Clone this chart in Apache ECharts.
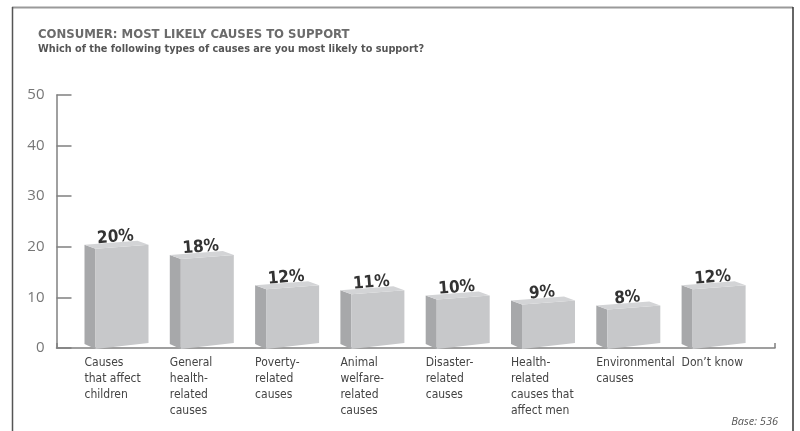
<!DOCTYPE html>
<html>
<head>
<meta charset="utf-8">
<script src="https://cdn.jsdelivr.net/npm/echarts@6/dist/echarts.min.js"></script>
<style>
  html, body { margin: 0; padding: 0; background: #fff; }
  #chart { width: 800px; height: 431px; }
</style>
</head>
<body>
<div id="chart"></div>
<script>
  // categories and values
  var categories = [
    'Causes\nthat affect\nchildren',
    'General\nhealth-\nrelated\ncauses',
    'Poverty-\nrelated\ncauses',
    'Animal\nwelfare-\nrelated\ncauses',
    'Disaster-\nrelated\ncauses',
    'Health-\nrelated\ncauses that\naffect men',
    'Environmental\ncauses',
    'Don\u2019t know'
  ];
  var values = [20, 18, 12, 11, 10, 9, 8, 12];
  var yMin = 0, yMax = 50, yStep = 10;

  var narrow = "'DejaVu Sans Condensed', 'DejaVu Sans', sans-serif";

  var myChart = echarts.init(document.getElementById('chart'));

  // box drawn from the category position (back-left edge) and the value
  function renderBox(params, api) {
    var top = api.coord([api.value(0), api.value(1)]);
    var base = api.coord([api.value(0), 0]);
    var x0 = top[0], yv = top[1], yb = base[1];
    var d = 11, w = 64;
    return {
      type: 'group',
      children: [
        {
          type: 'polygon',
          shape: { points: [[x0, yv - 2], [x0 + d, yv + 2], [x0 + d, yb + 1], [x0, yb - 4]] },
          style: { fill: '#a7a8aa' }
        },
        {
          type: 'polygon',
          shape: { points: [[x0 + d, yv + 2], [x0 + w, yv - 2], [x0 + w, yb - 5], [x0 + d, yb + 1]] },
          style: { fill: '#c7c8ca' }
        },
        {
          type: 'polygon',
          shape: { points: [[x0, yv - 2], [x0 + w - d, yv - 6], [x0 + w, yv - 2], [x0 + d, yv + 2]] },
          style: { fill: '#d3d4d6' }
        },
        {
          type: 'text',
          x: x0 + 31,
          y: yv - 9.5,
          rotation: 0.08,
          style: {
            text: api.value(1) + '%',
            fill: '#333',
            fontSize: 17,
            fontWeight: 'bold',
            fontFamily: narrow,
            align: 'center',
            verticalAlign: 'middle'
          }
        }
      ]
    };
  }

  var option = {
    animation: false,
    title: {
      text: 'CONSUMER: MOST LIKELY CAUSES TO SUPPORT',
      subtext: 'Which of the following types of causes are you most likely to support?',
      left: 33,
      top: 25,
      itemGap: 0,
      textStyle: { color: '#6b6b6b', fontSize: 13, fontWeight: 'bold', fontFamily: narrow, lineHeight: 10 },
      subtextStyle: { color: '#555', fontSize: 10.8, fontWeight: 'bold', fontFamily: narrow, lineHeight: 13 }
    },
    graphic: [
      { type: 'line', shape: { x1: 12, y1: 7.5, x2: 793, y2: 7.5 }, style: { stroke: '#9a9a9a', lineWidth: 2 } },
      { type: 'line', shape: { x1: 12.5, y1: 7, x2: 12.5, y2: 431 }, style: { stroke: '#555', lineWidth: 1.5 } },
      { type: 'line', shape: { x1: 793, y1: 7, x2: 793, y2: 431 }, style: { stroke: '#333', lineWidth: 1.5 } },
      {
        type: 'text', right: 22, top: 416,
        style: { text: 'Base: 536', fill: '#555', fontSize: 11, fontStyle: 'italic', fontFamily: "'Open Sans', sans-serif" }
      }
    ],
    grid: [
      { left: 56.5, right: 25, top: 95, bottom: 83 },
      { left: 41.85, width: 682.4, top: 95, bottom: 83 }
    ],
    xAxis: [
      {
        type: 'value', gridIndex: 0, min: 0, max: 1, interval: 1,
        axisLine: { show: true, lineStyle: { color: '#808080', width: 1.5 } },
        axisTick: { show: true, inside: true, length: 5, lineStyle: { color: '#808080', width: 1.5 } },
        axisLabel: { show: false },
        splitLine: { show: false }
      },
      {
        type: 'category', gridIndex: 1, data: categories,
        axisLine: { show: false },
        axisTick: { show: false },
        axisLabel: {
          interval: 0, align: 'left', margin: 7,
          color: '#444', fontSize: 12, lineHeight: 16, fontFamily: narrow,
          verticalAlign: 'top'
        }
      }
    ],
    yAxis: [
      {
        type: 'value', gridIndex: 0, min: yMin, max: yMax, interval: yStep,
        axisLine: { show: true, lineStyle: { color: '#808080', width: 1.5 } },
        axisTick: { show: true, inside: true, length: 15, lineStyle: { color: '#808080', width: 1.5 } },
        axisLabel: { color: '#777', fontSize: 15, margin: 12, fontFamily: "'Open Sans', sans-serif" },
        splitLine: { show: false }
      },
      {
        type: 'value', gridIndex: 1, min: yMin, max: yMax, interval: yStep,
        show: false
      }
    ],
    series: [
      {
        type: 'custom',
        xAxisIndex: 1,
        yAxisIndex: 1,
        renderItem: renderBox,
        encode: { x: 0, y: 1 },
        data: values.map(function (v, i) { return [i, v]; })
      }
    ]
  };

  myChart.setOption(option);
</script>
</body>
</html>
